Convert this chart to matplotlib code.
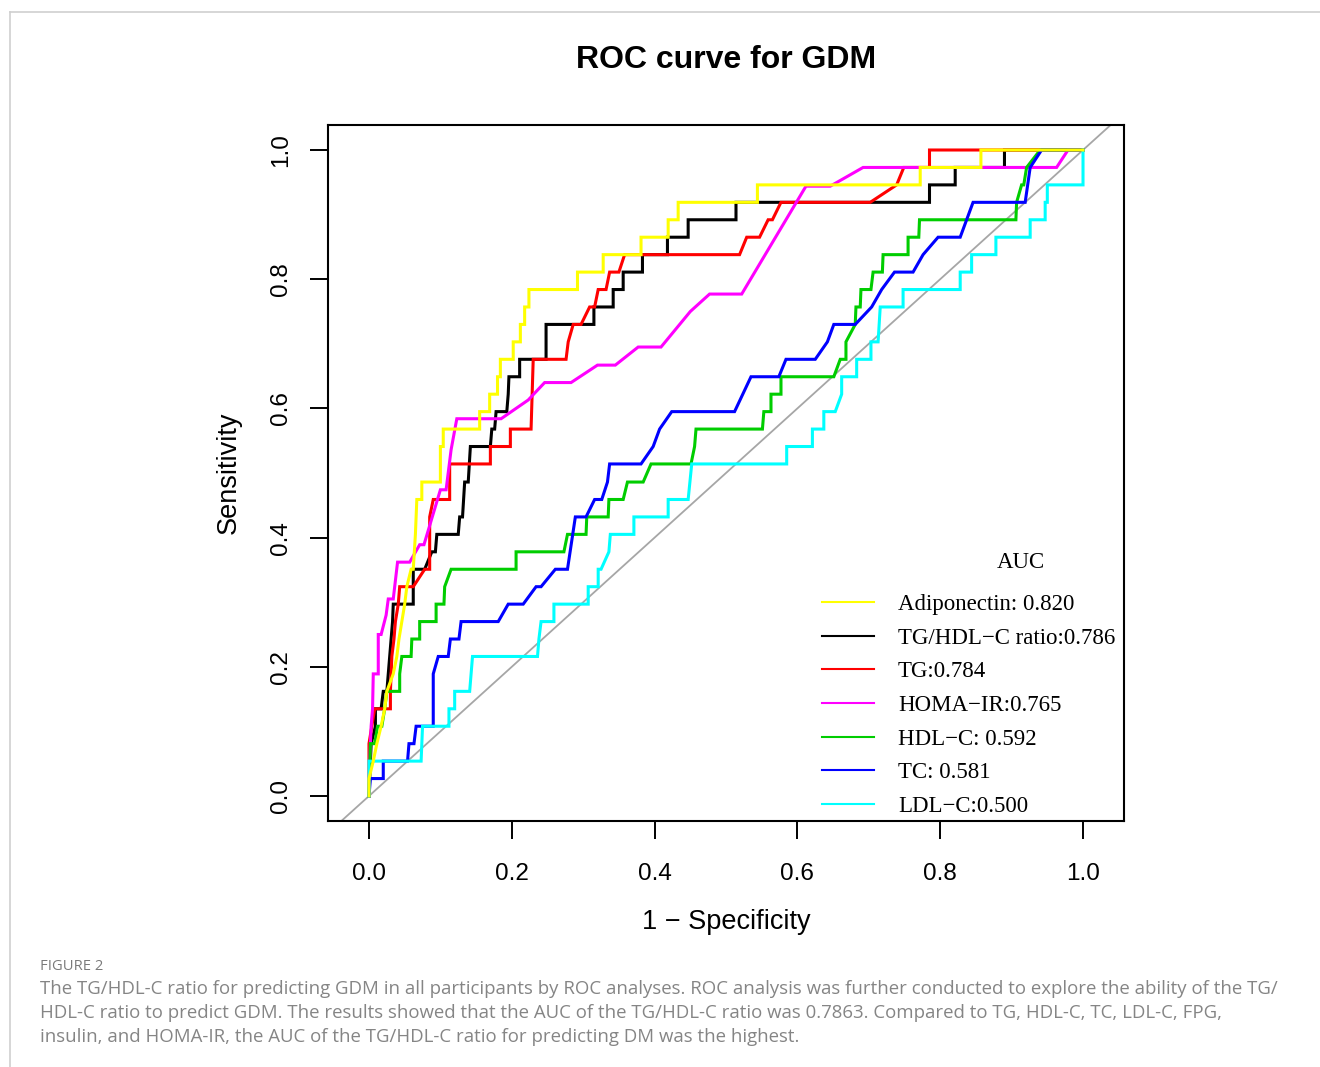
import matplotlib
matplotlib.use("Agg")
import matplotlib.pyplot as plt
from matplotlib.lines import Line2D

plt.rcParams['font.family'] = ['Liberation Sans', 'DejaVu Sans']

# ---------------- data (1 - specificity, sensitivity) ----------------
adipo_fpr = [0.000, 0.000, 0.006, 0.011, 0.017, 0.022, 0.025, 0.034, 0.039, 0.042, 0.046, 0.050, 0.053, 0.059, 0.062,
             0.065, 0.067, 0.074, 0.074, 0.100, 0.100, 0.104, 0.104, 0.155, 0.155, 0.169, 0.169, 0.180, 0.180, 0.184,
             0.184, 0.202, 0.202, 0.212, 0.212, 0.218, 0.218, 0.224, 0.224, 0.292, 0.292, 0.328, 0.328, 0.381, 0.381,
             0.419, 0.419, 0.433, 0.433, 0.544, 0.544, 0.772, 0.772, 0.857, 0.857, 1.000]
adipo_tpr = [0.000, 0.027, 0.054, 0.081, 0.108, 0.135, 0.162, 0.189, 0.216, 0.243, 0.270, 0.297, 0.324, 0.351, 0.351,
             0.405, 0.459, 0.459, 0.486, 0.486, 0.541, 0.541, 0.568, 0.568, 0.595, 0.595, 0.622, 0.622, 0.649, 0.649,
             0.676, 0.676, 0.703, 0.703, 0.730, 0.730, 0.757, 0.757, 0.784, 0.784, 0.811, 0.811, 0.838, 0.838, 0.865,
             0.865, 0.892, 0.892, 0.919, 0.919, 0.946, 0.946, 0.973, 0.973, 1.000, 1.000]

ratio_fpr = [0.000, 0.003, 0.009, 0.009, 0.017, 0.020, 0.025, 0.027, 0.029, 0.031, 0.033, 0.034, 0.062, 0.062, 0.078,
             0.088, 0.093, 0.095, 0.125, 0.127, 0.131, 0.134, 0.139, 0.142, 0.170, 0.172, 0.176, 0.178, 0.193, 0.195,
             0.196, 0.211, 0.211, 0.248, 0.248, 0.315, 0.315, 0.342, 0.342, 0.356, 0.356, 0.383, 0.383, 0.418, 0.418,
             0.447, 0.447, 0.514, 0.514, 0.785, 0.785, 0.821, 0.821, 0.890, 0.890, 1.000]
ratio_tpr = [0.000, 0.081, 0.108, 0.135, 0.135, 0.162, 0.162, 0.189, 0.216, 0.243, 0.270, 0.297, 0.297, 0.351, 0.351,
             0.378, 0.378, 0.405, 0.405, 0.432, 0.432, 0.486, 0.486, 0.541, 0.541, 0.568, 0.568, 0.595, 0.595, 0.622,
             0.649, 0.649, 0.676, 0.676, 0.730, 0.730, 0.757, 0.757, 0.784, 0.784, 0.811, 0.811, 0.838, 0.838, 0.865,
             0.865, 0.892, 0.892, 0.919, 0.919, 0.946, 0.946, 0.973, 0.973, 1.000, 1.000]

tg_fpr = [0.000, 0.000, 0.004, 0.008, 0.030, 0.030, 0.032, 0.035, 0.037, 0.041, 0.043, 0.062, 0.078, 0.085, 0.085,
          0.090, 0.113, 0.113, 0.170, 0.170, 0.198, 0.198, 0.227, 0.230, 0.276, 0.279, 0.286, 0.297, 0.309, 0.316,
          0.321, 0.332, 0.337, 0.350, 0.358, 0.519, 0.529, 0.547, 0.559, 0.565, 0.577, 0.702, 0.739, 0.749, 0.785,
          0.785, 1.000]
tg_tpr = [0.000, 0.081, 0.108, 0.135, 0.135, 0.162, 0.216, 0.243, 0.270, 0.297, 0.324, 0.324, 0.351, 0.351, 0.432,
          0.459, 0.459, 0.514, 0.514, 0.541, 0.541, 0.568, 0.568, 0.676, 0.676, 0.703, 0.730, 0.730, 0.757, 0.757,
          0.784, 0.784, 0.811, 0.811, 0.838, 0.838, 0.865, 0.865, 0.892, 0.892, 0.919, 0.919, 0.946, 0.973, 0.973,
          1.000, 1.000]

homa_fpr = [0.000, 0.001, 0.003, 0.005, 0.006, 0.013, 0.013, 0.017, 0.024, 0.027, 0.034, 0.040, 0.057, 0.071, 0.077,
            0.100, 0.108, 0.115, 0.123, 0.185, 0.223, 0.246, 0.283, 0.320, 0.345, 0.377, 0.409, 0.450, 0.477, 0.522,
            0.612, 0.646, 0.692, 0.963, 0.979, 1.000]
homa_tpr = [0.000, 0.054, 0.108, 0.135, 0.189, 0.189, 0.250, 0.250, 0.280, 0.305, 0.305, 0.362, 0.362, 0.389, 0.389,
            0.474, 0.474, 0.536, 0.584, 0.584, 0.613, 0.640, 0.640, 0.667, 0.667, 0.695, 0.695, 0.750, 0.777, 0.777,
            0.944, 0.944, 0.973, 0.973, 1.000, 1.000]

hdl_fpr = [0.000, 0.002, 0.008, 0.012, 0.018, 0.022, 0.025, 0.043, 0.043, 0.046, 0.059, 0.060, 0.071, 0.071, 0.094,
           0.094, 0.105, 0.106, 0.115, 0.206, 0.206, 0.273, 0.278, 0.304, 0.305, 0.335, 0.336, 0.356, 0.362, 0.384,
           0.395, 0.451, 0.456, 0.458, 0.551, 0.553, 0.563, 0.563, 0.577, 0.577, 0.651, 0.660, 0.668, 0.668, 0.681,
           0.682, 0.688, 0.689, 0.703, 0.706, 0.719, 0.720, 0.755, 0.755, 0.770, 0.771, 0.906, 0.907, 0.914, 0.917,
           0.921, 0.940, 1.000]
hdl_tpr = [0.000, 0.081, 0.081, 0.108, 0.108, 0.135, 0.162, 0.162, 0.189, 0.216, 0.216, 0.243, 0.243, 0.270, 0.270,
           0.297, 0.297, 0.324, 0.351, 0.351, 0.378, 0.378, 0.405, 0.405, 0.432, 0.432, 0.459, 0.459, 0.486, 0.486,
           0.514, 0.514, 0.541, 0.568, 0.568, 0.595, 0.595, 0.622, 0.622, 0.649, 0.649, 0.676, 0.676, 0.703, 0.730,
           0.757, 0.757, 0.784, 0.784, 0.811, 0.811, 0.838, 0.838, 0.865, 0.865, 0.892, 0.892, 0.919, 0.946, 0.946,
           0.973, 1.000, 1.000]

tc_fpr = [0.000, 0.002, 0.020, 0.020, 0.054, 0.056, 0.063, 0.066, 0.090, 0.090, 0.097, 0.111, 0.114, 0.126, 0.129,
          0.181, 0.195, 0.216, 0.234, 0.241, 0.261, 0.278, 0.289, 0.304, 0.316, 0.326, 0.334, 0.337, 0.381, 0.398,
          0.407, 0.424, 0.512, 0.535, 0.574, 0.584, 0.625, 0.642, 0.651, 0.681, 0.704, 0.718, 0.736, 0.762, 0.776,
          0.797, 0.828, 0.846, 0.919, 0.926, 0.942, 1.000]
tc_tpr = [0.000, 0.027, 0.027, 0.054, 0.054, 0.081, 0.081, 0.108, 0.108, 0.189, 0.216, 0.216, 0.243, 0.243, 0.270,
          0.270, 0.297, 0.297, 0.324, 0.324, 0.351, 0.351, 0.432, 0.432, 0.459, 0.459, 0.486, 0.514, 0.514, 0.541,
          0.568, 0.595, 0.595, 0.649, 0.649, 0.676, 0.676, 0.703, 0.730, 0.730, 0.757, 0.784, 0.811, 0.811, 0.838,
          0.865, 0.865, 0.919, 0.919, 0.973, 1.000, 1.000]

ldl_fpr = [0.000, 0.000, 0.073, 0.075, 0.112, 0.112, 0.120, 0.120, 0.141, 0.143, 0.145, 0.236, 0.238, 0.241, 0.259,
           0.259, 0.307, 0.307, 0.321, 0.321, 0.325, 0.336, 0.338, 0.371, 0.371, 0.419, 0.419, 0.447, 0.452, 0.585,
           0.585, 0.621, 0.621, 0.637, 0.637, 0.653, 0.662, 0.662, 0.683, 0.683, 0.703, 0.703, 0.713, 0.716, 0.748,
           0.748, 0.828, 0.828, 0.844, 0.844, 0.878, 0.878, 0.926, 0.926, 0.947, 0.947, 0.950, 0.950, 1.000, 1.000]
ldl_tpr = [0.000, 0.054, 0.054, 0.108, 0.108, 0.135, 0.135, 0.162, 0.162, 0.189, 0.216, 0.216, 0.243, 0.270, 0.270,
           0.297, 0.297, 0.324, 0.324, 0.351, 0.351, 0.378, 0.405, 0.405, 0.432, 0.432, 0.459, 0.459, 0.514, 0.514,
           0.541, 0.541, 0.568, 0.568, 0.595, 0.595, 0.622, 0.649, 0.649, 0.676, 0.676, 0.703, 0.703, 0.757, 0.757,
           0.784, 0.784, 0.811, 0.811, 0.838, 0.838, 0.865, 0.865, 0.892, 0.892, 0.919, 0.919, 0.946, 0.946, 1.000]

legend_labels = ["Adiponectin: 0.820", "TG/HDL\u2212C ratio:0.786", "TG:0.784", "HOMA\u2212IR:0.765",
                 "HDL\u2212C: 0.592", "TC: 0.581", "LDL\u2212C:0.500"]
legend_colors = ["#FFFF00", "#000000", "#FF0000", "#FF00FF", "#00CD00", "#0000FF", "#00FFFF"]
tick_values = [0.0, 0.2, 0.4, 0.6, 0.8, 1.0]
tick_labels = ["0.0", "0.2", "0.4", "0.6", "0.8", "1.0"]

title_text = "ROC curve for GDM"
caption_head = "FIGURE 2"
caption_lines = [
    "The TG/HDL-C ratio for predicting GDM in all participants by ROC analyses. ROC analysis was further conducted to explore the ability of the TG/",
    "HDL-C ratio to predict GDM. The results showed that the AUC of the TG/HDL-C ratio was 0.7863. Compared to TG, HDL-C, TC, LDL-C, FPG,",
    "insulin, and HOMA-IR, the AUC of the TG/HDL-C ratio for predicting DM was the highest.",
]

# ---------------- figure ----------------
W, H = 1320, 1067
fig = plt.figure(figsize=(W / 100, H / 100), dpi=100)
fig.patch.set_facecolor("white")

# outer light frame
fig.add_artist(Line2D([10 / W, 10 / W], [0, 1 - 11.5 / H], transform=fig.transFigure, color="#cfcfcf", lw=1.2))
fig.add_artist(Line2D([10 / W, 1], [1 - 11.5 / H, 1 - 11.5 / H], transform=fig.transFigure, color="#cfcfcf", lw=1.2))

ax = fig.add_axes([328 / W, 1 - 821 / H, 796 / W, 696 / H])
ax.set_xlim(-0.0574, 1.0574)
ax.set_ylim(-0.0387, 1.0387)

ax.axline((0, 0), (1, 1), color="#a6a6a6", lw=1.3, zorder=1)

series = [
    (ratio_fpr, ratio_tpr, legend_colors[1]),
    (tg_fpr, tg_tpr, legend_colors[2]),
    (homa_fpr, homa_tpr, legend_colors[3]),
    (hdl_fpr, hdl_tpr, legend_colors[4]),
    (tc_fpr, tc_tpr, legend_colors[5]),
    (ldl_fpr, ldl_tpr, legend_colors[6]),
    (adipo_fpr, adipo_tpr, legend_colors[0]),
]
for i, (fx, ty, c) in enumerate(series):
    ax.plot(fx, ty, color=c, lw=2.2, solid_joinstyle="miter", zorder=2 + i)

for s in ax.spines.values():
    s.set_linewidth(1.5)

ax.set_xticks(tick_values)
ax.set_xticklabels(tick_labels)
ax.set_yticks(tick_values)
ax.set_yticklabels(tick_labels, rotation=90, va="center")
ax.tick_params(axis="both", direction="out", length=13, width=1.4, labelsize=17.5)
ax.tick_params(axis="x", pad=17)
ax.tick_params(axis="y", pad=13)

ax.set_xlabel("1 \u2212 Specificity", fontsize=19.5, va="center")
ax.xaxis.set_label_coords(0.5, -(922 - 821) / 696)
ax.set_ylabel("Sensitivity", fontsize=19.5, va="center", ha="center")
ax.yaxis.set_label_coords(-(328 - 229) / 796, 0.5)

ax.set_title(title_text, fontsize=23, fontweight="bold", y=(821 - 60) / 696, va="center", pad=0)

handles = [Line2D([], [], color=c, lw=1.5) for c in legend_colors]
leg = ax.legend(handles, legend_labels, loc="upper left", bbox_to_anchor=((822 - 328) / 796, (821 - 594) / 696),
                frameon=False, borderpad=0, borderaxespad=0, handlelength=2.27, handletextpad=1.05,
                labelspacing=0.55, prop={"family": ["Liberation Serif", "DejaVu Serif"], "size": 16.5})
ax.text((1021 - 328) / 796, (821 - 563) / 696, "AUC", transform=ax.transAxes, ha="center", va="center",
        fontsize=16.5, family=["Liberation Serif", "DejaVu Serif"])

# ---------------- caption ----------------
cap_font = ["Open Sans", "DejaVu Sans"]
head = fig.text(40 / W, 1 - 966 / H, caption_head, ha="left", va="center", color="#7a7a7a",
                fontsize=10, family=cap_font)
cap_objs = []
for k, line in enumerate(caption_lines):
    t = fig.text(40 / W, 1 - (989 + 24 * k) / H, line, ha="left", va="center", color="#858585",
                 fontsize=13, family=cap_font)
    cap_objs.append(t)

# fit caption size so line 1 spans the measured width
fig.canvas.draw()
r = fig.canvas.get_renderer()
w0 = cap_objs[0].get_window_extent(r).width
scale = (1268 - 40) / w0
for t in cap_objs:
    t.set_fontsize(13 * scale)
wh = head.get_window_extent(r).width
head.set_fontsize(10 * (103 - 40) / wh)

fig.savefig("out.png", dpi=100, facecolor="white")
